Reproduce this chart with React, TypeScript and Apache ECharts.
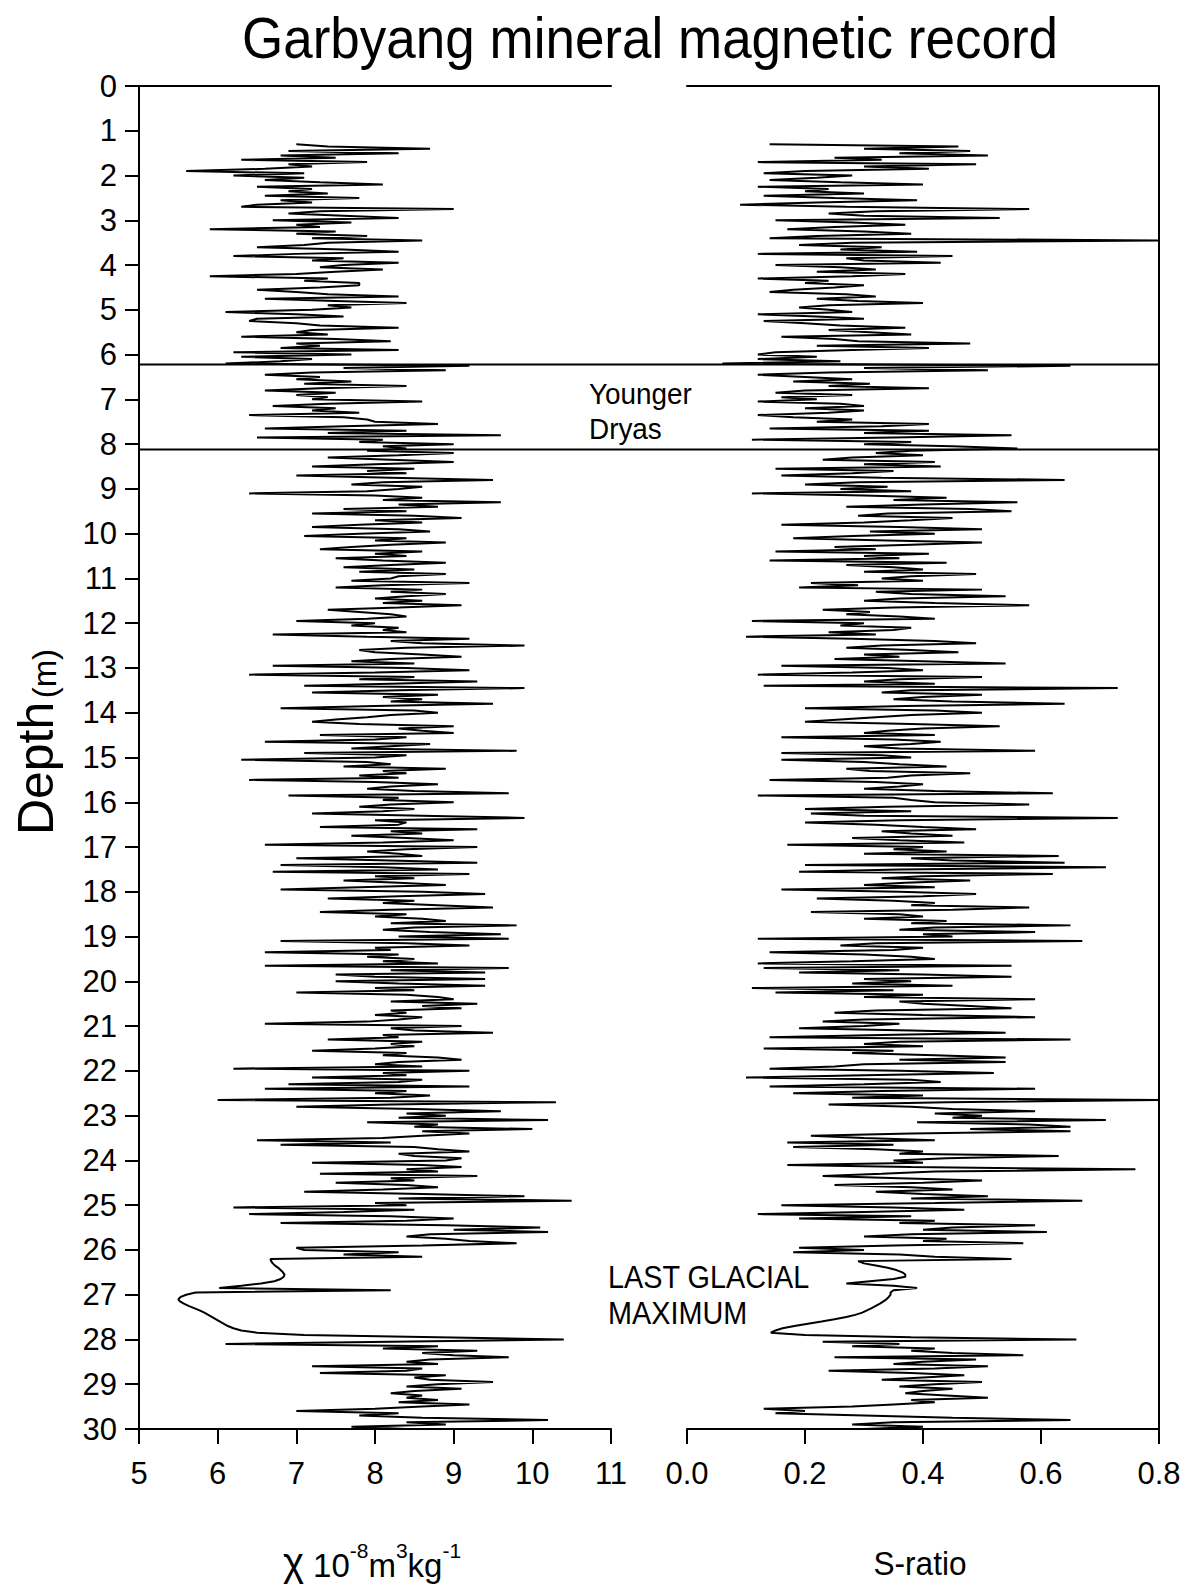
import React, { useEffect, useRef } from "react";
import * as echarts from "echarts";

// Depth sampling of both records (m)
const depthStart = 1.3;
const depthStep = 0.05;

// Mass-specific magnetic susceptibility χ (10^-8 m^3 kg^-1), from 1.30 m downwards every 0.05 m
const chiValues = [
  7.0, 7.4, 8.7, 6.9, 8.3, 6.8, 7.5, 6.3, 7.9, 6.9, 7.2, 6.6, 5.6, 7.1,
  6.2, 7.1, 6.6, 7.3, 8.1, 6.5, 7.2, 6.9, 7.4, 6.6, 7.8, 6.8, 7.2, 6.5, 6.3, 9.0, 7.3, 6.9, 7.6, 8.3,
  6.7, 7.7, 7.0, 7.3, 5.9, 7.5, 7.0, 7.9, 7.2, 8.6, 7.4, 7.1, 6.5, 7.6, 8.3, 7.0, 6.2, 7.6, 7.2, 8.3,
  7.6, 7.3, 8.1, 7.5, 7.0, 5.9, 7.4, 7.1, 7.8, 7.8, 7.3, 6.5, 7.0, 7.4, 8.3, 6.6, 7.5, 8.4, 7.4, 7.7,
  7.2, 6.1, 7.0, 7.6, 6.5, 6.4, 7.0, 7.3, 8.3, 7.2, 7.0, 7.4, 6.3, 7.5, 8.2, 7.0, 7.3, 6.8, 8.3, 6.2,
  7.7, 6.3, 7.2, 6.8, 6.1, 9.2, 7.6, 8.9, 7.2, 6.6, 7.3, 7.0, 7.7, 7.1, 8.4, 7.3, 6.6, 7.5, 7.0, 7.4,
  7.2, 8.6, 7.4, 6.7, 7.5, 7.2, 7.8, 6.4, 7.6, 7.9, 8.0, 8.8, 7.6, 6.6, 8.4, 7.4, 9.6, 6.5, 8.1, 7.8,
  9.0, 8.1, 8.4, 7.9, 9.0, 8.3, 7.4, 8.2, 9.0, 8.0, 7.2, 8.5, 7.9, 8.4, 7.0, 8.2, 9.5, 8.1, 7.7, 8.6,
  8.3, 7.9, 6.4, 8.0, 8.6, 8.1, 9.6, 8.3, 8.8, 7.6, 8.4, 7.2, 8.5, 9.1, 8.0, 8.6, 7.8, 7.2, 8.3, 8.7,
  7.8, 7.1, 8.4, 8.0, 8.9, 8.2, 7.7, 7.3, 8.6, 8.0, 8.4, 7.5, 8.1, 8.9, 8.2, 7.6, 8.5, 7.8, 8.9, 8.3,
  8.2, 7.7, 9.2, 8.1, 7.5, 8.6, 8.2, 8.9, 8.4, 8.0, 8.6, 8.1, 9.1, 8.3, 7.4, 7.8, 8.2, 8.4, 7.9, 7.0,
  8.0, 7.7, 8.3, 8.1, 8.4, 6.7, 7.9, 9.2, 8.2, 8.6, 9.9, 8.4, 7.8, 8.0, 8.6, 9.1, 8.2, 7.7, 8.5, 6.7,
  8.4, 9.2, 8.0, 6.4, 8.5, 7.8, 9.3, 8.2, 7.1, 9.9, 8.3, 7.2, 8.8, 8.1, 8.6, 8.2, 9.5, 8.0, 6.8, 8.5,
  8.8, 8.2, 7.9, 7.5, 7.2, 7.8, 9.0, 8.3, 8.6, 9.0, 7.3, 8.4, 8.0, 6.6, 8.7, 8.2, 7.7, 9.8, 7.1, 8.4,
  8.0, 6.3, 7.9, 8.2, 7.6, 8.9, 8.1, 8.4, 7.8, 8.3, 6.4, 8.0, 8.8, 8.2, 7.9, 8.5, 9.7, 6.9, 8.3, 8.1,
  9.0, 8.2, 7.8, 8.5, 8.1, 7.2, 8.6, 9.9, 8.0, 8.4, 8.3, 7.3, 9.3, 8.2, 8.6, 7.7, 8.4, 9.0, 8.1, 6.6,
  9.3, 8.4, 7.9, 8.3, 8.6, 7.0, 8.2, 9.3, 6.8, 8.1, 8.8, 6.7, 9.2, 8.0, 8.5, 7.6, 8.3, 8.9, 7.8, 6.8,
  8.6, 9.4, 8.3, 7.4, 8.5, 8.1, 8.8, 9.5, 8.2, 7.3, 8.4, 8.0, 8.6, 8.9, 8.2, 9.8, 8.5, 8.1, 8.7, 9.6,
  8.3, 9.7, 6.8, 8.4, 9.2, 8.0, 8.2, 6.6, 8.3, 7.9, 8.5, 8.1, 8.8, 6.6, 9.7, 8.2, 9.4, 7.5, 8.0, 9.4,
  7.5, 8.3, 9.4, 8.0, 8.5, 7.0, 8.4, 8.8, 9.0, 8.2, 9.3, 8.6, 9.1, 8.2, 8.4, 8.0, 8.6, 8.3, 7.9, 6.6,
  9.1, 8.2, 8.5, 9.5, 8.1, 8.3, 7.4, 8.6, 8.2, 8.5, 8.0, 7.2, 8.4, 8.1, 8.8, 9.1, 8.3, 8.0, 8.6, 6.2,
  9.2, 8.1, 8.4, 7.2, 8.6, 8.3, 6.9, 9.2, 6.6, 8.4, 8.0, 8.7, 8.2, 6.0, 10.3, 8.2, 7.0, 8.5, 9.6, 8.4,
  8.9, 8.3, 10.2, 7.9, 8.8, 8.5, 10.0, 8.6, 9.2, 8.6, 8.1, 6.5, 8.2, 6.8, 8.5, 8.8, 9.2, 8.3, 8.5, 9.1,
  8.9, 7.2, 8.6, 9.1, 8.4, 8.8, 7.3, 9.3, 8.2, 8.5, 7.5, 8.4, 8.8, 8.1, 7.1, 8.6, 9.9, 8.3, 10.5, 8.0,
  8.4, 6.2, 8.5, 7.6, 6.4, 8.2, 9.0, 8.4, 6.8, 8.9, 10.1, 9.0, 10.2, 8.7, 8.4, 8.9, 9.2, 9.8, 8.6, 7.0,
  7.1, 8.3, 7.6, 8.6, 6.67, 6.68, 6.7, 6.73, 6.77, 6.8, 6.83, 6.85, 6.84, 6.8, 6.72, 6.55, 6.3, 6.02, 8.2, 5.72,
  5.6, 5.53, 5.5, 5.52, 5.57, 5.63, 5.7, 5.77, 5.83, 5.88, 5.93, 5.98, 6.03, 6.08, 6.13, 6.2, 6.3, 6.5, 7.1, 8.8,
  10.4, 8.2, 6.1, 8.8, 8.1, 9.3, 8.6, 9.0, 9.7, 8.7, 8.4, 8.8, 7.2, 8.6, 8.4, 7.3, 8.9, 8.5, 8.7, 9.5,
  8.8, 8.4, 9.1, 8.5, 8.2, 8.6, 8.4, 8.8, 8.3, 9.2, 8.6, 8.0, 7.0, 8.3, 7.8, 8.6, 10.2, 8.4, 8.9, 7.7, 8.4,
];

// S-ratio, same depths
const sRatioValues = [
  0.14, 0.46, 0.3, 0.48, 0.36, 0.51, 0.25, 0.33, 0.12, 0.49, 0.3, 0.41, 0.2, 0.13,
  0.28, 0.22, 0.14, 0.26, 0.4, 0.12, 0.24, 0.2, 0.3, 0.13, 0.25, 0.39, 0.22, 0.09, 0.27, 0.58, 0.32, 0.24, 0.3, 0.53,
  0.15, 0.28, 0.37, 0.25, 0.17, 0.3, 0.38, 0.22, 0.14, 0.8, 0.28, 0.19, 0.33, 0.26, 0.39, 0.12, 0.45, 0.27, 0.3, 0.43,
  0.15, 0.26, 0.32, 0.22, 0.37, 0.28, 0.12, 0.24, 0.2, 0.3, 0.25, 0.18, 0.14, 0.27, 0.32, 0.22, 0.29, 0.4, 0.24, 0.19,
  0.24, 0.28, 0.12, 0.22, 0.3, 0.13, 0.2, 0.26, 0.37, 0.24, 0.31, 0.38, 0.16, 0.25, 0.29, 0.48, 0.22, 0.41, 0.28, 0.15,
  0.12, 0.22, 0.12, 0.26, 0.06, 0.65, 0.3, 0.51, 0.24, 0.12, 0.2, 0.28, 0.18, 0.31, 0.24, 0.41, 0.2, 0.15, 0.28, 0.16,
  0.22, 0.12, 0.26, 0.3, 0.2, 0.3, 0.24, 0.12, 0.18, 0.28, 0.22, 0.41, 0.33, 0.14, 0.41, 0.3, 0.55, 0.35, 0.11, 0.38,
  0.3, 0.45, 0.56, 0.38, 0.32, 0.4, 0.28, 0.23, 0.42, 0.3, 0.43, 0.15, 0.35, 0.28, 0.16, 0.33, 0.64, 0.29, 0.2, 0.34,
  0.26, 0.38, 0.11, 0.3, 0.44, 0.35, 0.56, 0.4, 0.27, 0.48, 0.55, 0.34, 0.29, 0.45, 0.38, 0.3, 0.16, 0.36, 0.5, 0.31,
  0.42, 0.28, 0.18, 0.34, 0.5, 0.38, 0.25, 0.32, 0.15, 0.41, 0.3, 0.36, 0.14, 0.44, 0.27, 0.35, 0.4, 0.3, 0.49, 0.38,
  0.33, 0.4, 0.21, 0.29, 0.19, 0.5, 0.32, 0.38, 0.54, 0.36, 0.3, 0.42, 0.58, 0.35, 0.23, 0.31, 0.27, 0.36, 0.42, 0.11,
  0.3, 0.26, 0.38, 0.35, 0.24, 0.32, 0.1, 0.28, 0.42, 0.49, 0.33, 0.27, 0.38, 0.46, 0.3, 0.36, 0.25, 0.4, 0.54, 0.16,
  0.34, 0.4, 0.28, 0.12, 0.5, 0.36, 0.3, 0.42, 0.13, 0.73, 0.38, 0.33, 0.5, 0.4, 0.35, 0.45, 0.64, 0.37, 0.2, 0.42,
  0.5, 0.38, 0.32, 0.26, 0.2, 0.38, 0.53, 0.4, 0.34, 0.3, 0.42, 0.16, 0.35, 0.43, 0.38, 0.3, 0.36, 0.59, 0.16, 0.33,
  0.38, 0.16, 0.3, 0.36, 0.44, 0.27, 0.31, 0.48, 0.38, 0.34, 0.14, 0.32, 0.4, 0.36, 0.3, 0.42, 0.62, 0.12, 0.35, 0.38,
  0.42, 0.58, 0.34, 0.2, 0.38, 0.21, 0.3, 0.73, 0.36, 0.2, 0.32, 0.4, 0.49, 0.33, 0.38, 0.45, 0.28, 0.36, 0.47, 0.17,
  0.4, 0.35, 0.44, 0.3, 0.63, 0.38, 0.45, 0.64, 0.2, 0.71, 0.36, 0.19, 0.62, 0.4, 0.33, 0.48, 0.37, 0.3, 0.42, 0.16,
  0.36, 0.49, 0.4, 0.22, 0.35, 0.42, 0.38, 0.58, 0.45, 0.21, 0.36, 0.4, 0.3, 0.44, 0.38, 0.65, 0.42, 0.36, 0.59, 0.4,
  0.45, 0.12, 0.67, 0.32, 0.26, 0.4, 0.35, 0.14, 0.3, 0.38, 0.42, 0.28, 0.12, 0.55, 0.13, 0.36, 0.19, 0.4, 0.55, 0.3,
  0.38, 0.28, 0.45, 0.11, 0.35, 0.15, 0.4, 0.3, 0.59, 0.36, 0.4, 0.48, 0.55, 0.32, 0.25, 0.4, 0.59, 0.3, 0.23, 0.36,
  0.3, 0.19, 0.38, 0.54, 0.33, 0.14, 0.65, 0.36, 0.3, 0.4, 0.13, 0.35, 0.28, 0.42, 0.54, 0.36, 0.54, 0.3, 0.25, 0.14,
  0.36, 0.52, 0.3, 0.1, 0.38, 0.43, 0.3, 0.14, 0.59, 0.33, 0.18, 0.4, 0.28, 0.8, 0.44, 0.24, 0.38, 0.45, 0.59, 0.42,
  0.5, 0.45, 0.71, 0.39, 0.58, 0.65, 0.48, 0.65, 0.38, 0.21, 0.3, 0.42, 0.17, 0.35, 0.18, 0.32, 0.4, 0.36, 0.63, 0.44,
  0.35, 0.4, 0.17, 0.38, 0.76, 0.42, 0.33, 0.23, 0.36, 0.5, 0.4, 0.25, 0.38, 0.45, 0.32, 0.4, 0.51, 0.38, 0.67, 0.42,
  0.16, 0.35, 0.47, 0.3, 0.12, 0.38, 0.19, 0.42, 0.36, 0.59, 0.45, 0.4, 0.61, 0.38, 0.3, 0.44, 0.4, 0.57, 0.35, 0.19,
  0.3, 0.18, 0.36, 0.42, 0.55, 0.29, 0.3, 0.32, 0.34, 0.355, 0.365, 0.37, 0.37, 0.35, 0.31, 0.27, 0.35, 0.39, 0.35, 0.345,
  0.345, 0.342, 0.338, 0.333, 0.327, 0.32, 0.313, 0.305, 0.297, 0.285, 0.27, 0.25, 0.228, 0.205, 0.182, 0.162, 0.15, 0.142, 0.2, 0.38,
  0.66, 0.23, 0.36, 0.28, 0.42, 0.38, 0.45, 0.57, 0.25, 0.49, 0.4, 0.35, 0.51, 0.42, 0.24, 0.38, 0.47, 0.4, 0.33, 0.5,
  0.42, 0.36, 0.45, 0.4, 0.37, 0.44, 0.51, 0.38, 0.42, 0.35, 0.28, 0.13, 0.2, 0.15, 0.3, 0.45, 0.65, 0.35, 0.28, 0.4, 0.3,
];

// Axis ranges
const depthRange = [0, 30];
const chiRange = [5, 11];
const sRatioRange = [0, 0.8];

// Younger Dryas interval (m)
const youngerDryas = [6.22, 8.12];

const FONT = "Liberation Sans, Arial, sans-serif";

export default function App() {
  const ref = useRef<HTMLDivElement>(null);

  useEffect(() => {
    document.body.style.margin = "0";
    const chart = echarts.init(ref.current as HTMLDivElement, null, { renderer: "svg" });

    const chiData = chiValues.map((v, i) => [v, +(depthStart + i * depthStep).toFixed(2)]);
    const sData = sRatioValues.map((v, i) => [v, +(depthStart + i * depthStep).toFixed(2)]);

    const axisLine = { show: true, onZero: false, lineStyle: { color: "#000", width: 2 } };
    const tickLabel = { color: "#000", fontSize: 31, fontFamily: FONT };
    const tick = { show: true, length: 15, lineStyle: { color: "#000", width: 2 } };

    const option: any = {
      animation: false,
      backgroundColor: "#fff",
      grid: [
        { left: 139, top: 86, width: 472, height: 1343 },
        { left: 687, top: 86, width: 472, height: 1343 },
      ],
      xAxis: [
        {
          type: "value", gridIndex: 0, position: "bottom",
          min: chiRange[0], max: chiRange[1], interval: 1,
          axisLine, axisTick: tick,
          axisLabel: { ...tickLabel, margin: 29 }, splitLine: { show: false },
        },
        {
          type: "value", gridIndex: 1, position: "bottom",
          min: sRatioRange[0], max: sRatioRange[1], interval: 0.2,
          axisLine, axisTick: tick,
          axisLabel: { ...tickLabel, margin: 29, formatter: (v: number) => v.toFixed(1) },
          splitLine: { show: false },
        },
        {
          type: "value", gridIndex: 0, position: "top",
          min: chiRange[0], max: chiRange[1],
          axisLine, axisTick: { show: false }, axisLabel: { show: false }, splitLine: { show: false },
        },
        {
          type: "value", gridIndex: 1, position: "top",
          min: sRatioRange[0], max: sRatioRange[1],
          axisLine, axisTick: { show: false }, axisLabel: { show: false }, splitLine: { show: false },
        },
      ],
      yAxis: [
        {
          type: "value", gridIndex: 0, position: "left", inverse: true,
          min: depthRange[0], max: depthRange[1], interval: 1,
          axisLine, axisTick: { ...tick, length: 14 },
          axisLabel: { ...tickLabel, margin: 22 }, splitLine: { show: false },
        },
        {
          type: "value", gridIndex: 1, position: "right", inverse: true,
          min: depthRange[0], max: depthRange[1], interval: 1,
          axisLine, axisTick: { show: false }, axisLabel: { show: false }, splitLine: { show: false },
        },
      ],
      series: [
        {
          name: "chi", type: "line", xAxisIndex: 0, yAxisIndex: 0, data: chiData,
          symbol: "none", showSymbol: false, lineStyle: { color: "#000", width: 2 },
          silent: true,
        },
        {
          name: "S-ratio", type: "line", xAxisIndex: 1, yAxisIndex: 1, data: sData,
          symbol: "none", showSymbol: false, lineStyle: { color: "#000", width: 2 },
          silent: true,
        },
      ],
    };
    chart.setOption(option);

    const ydLines = youngerDryas.map((d) => {
      const p0 = chart.convertToPixel({ gridIndex: 0 }, [chiRange[0], d]) as number[];
      const p1 = chart.convertToPixel({ gridIndex: 1 }, [sRatioRange[1], d]) as number[];
      return {
        type: "line",
        shape: { x1: p0[0], y1: p0[1], x2: p1[0], y2: p1[1] },
        style: { stroke: "#000", lineWidth: 2 },
        z: 10,
      };
    });

    const txt = (text: string, x: number, y: number, fontSize: number, align = "left", el: any = {}) => ({
      type: "text",
      x, y,
      style: {
        text, fill: "#000", fontSize, fontFamily: FONT,
        align, verticalAlign: "middle", textAlign: align, textVerticalAlign: "middle",
      },
      z: 20,
      ...el,
    });

    chart.setOption({
      graphic: [
        ...ydLines,
        txt("Garbyang mineral magnetic record", 650, 38, 57, "center", { scaleX: 0.93 }),
        txt("Younger", 589, 394, 30, "left", { scaleX: 0.93 }),
        txt("Dryas", 589, 429, 30, "left", { scaleX: 0.93 }),
        txt("LAST GLACIAL", 608, 1277, 31, "left", { scaleX: 0.93 }),
        txt("MAXIMUM", 608, 1313, 31, "left", { scaleX: 0.93 }),
        {
          type: "text",
          x: 34, y: 742, rotation: Math.PI / 2,
          style: {
            text: "{a|Depth} {b|(m)}",
            align: "center", verticalAlign: "middle", textAlign: "center", textVerticalAlign: "middle",
            fill: "#000", fontFamily: FONT,
            rich: {
              a: { fontSize: 50, fontFamily: FONT, fill: "#000", lineHeight: 54, verticalAlign: "bottom" },
              b: { fontSize: 33, fontFamily: FONT, fill: "#000", lineHeight: 44, verticalAlign: "bottom" },
            },
          },
          z: 20,
        },
        {
          type: "text",
          x: 372, y: 1561,
          style: {
            text: "{c|χ}{m| 10}{s|-8}{m|m}{s|3}{m|kg}{s|-1}",
            align: "center", verticalAlign: "middle", textAlign: "center", textVerticalAlign: "middle",
            fill: "#000", fontFamily: FONT,
            rich: {
              c: { fontSize: 40, fontFamily: FONT, fill: "#000", lineHeight: 42, verticalAlign: "bottom" },
              m: { fontSize: 33, fontFamily: FONT, fill: "#000", lineHeight: 38, verticalAlign: "bottom" },
              s: { fontSize: 21, fontFamily: FONT, fill: "#000", lineHeight: 18, verticalAlign: "top" },
            },
          },
          z: 20,
        },
        txt("S-ratio", 920, 1563, 34, "center", { scaleX: 0.93 }),
      ],
    });

    return () => chart.dispose();
  }, []);

  return <div ref={ref} style={{ width: 1190, height: 1589 }} />;
}
